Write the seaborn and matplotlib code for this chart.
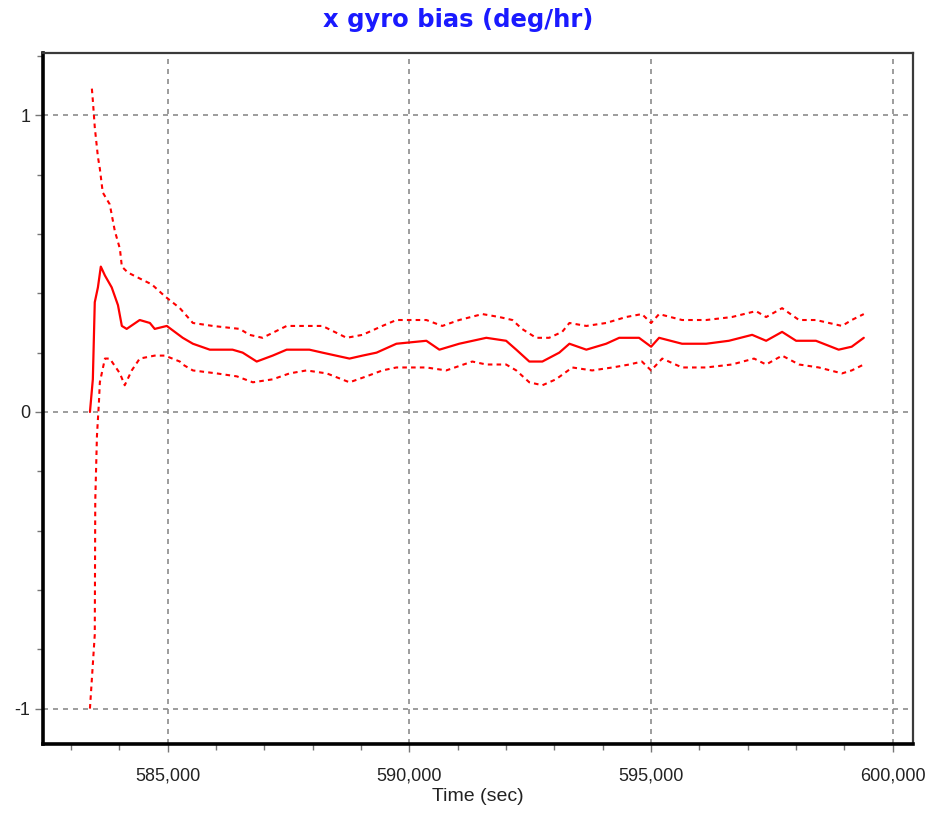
import matplotlib
matplotlib.use("Agg")
import matplotlib.pyplot as plt
from matplotlib.ticker import MultipleLocator
import seaborn as sns
import pandas as pd

# ---- data ----
mid_t = [583390, 583450, 583490, 583555, 583615, 583700, 583840, 583970, 584050, 584150,
         584420, 584630, 584730, 584980, 585310, 585520, 585870, 586340, 586550, 586840,
         587170, 587460, 587730, 587930, 588200, 588760, 589030, 589320, 589730, 590350,
         590620, 591030, 591590, 592000, 592210, 592480, 592750, 593100, 593310, 593660,
         594070, 594340, 594750, 595000, 595165, 595640, 596140, 596610, 597090, 597380,
         597710, 598000, 598410, 598880, 599150, 599400]
mid_v = [0.00, 0.11, 0.37, 0.42, 0.49, 0.46, 0.42, 0.36, 0.29, 0.28,
         0.31, 0.30, 0.28, 0.29, 0.25, 0.23, 0.21, 0.21, 0.20, 0.17,
         0.19, 0.21, 0.21, 0.21, 0.20, 0.18, 0.19, 0.20, 0.23, 0.24,
         0.21, 0.23, 0.25, 0.24, 0.21, 0.17, 0.17, 0.20, 0.23, 0.21,
         0.23, 0.25, 0.25, 0.22, 0.25, 0.23, 0.23, 0.24, 0.26, 0.24,
         0.27, 0.24, 0.24, 0.21, 0.22, 0.25]

up_t = [583430, 583450, 583490, 583555, 583595, 583655, 583800, 583905, 584010, 584050,
        584175, 584420, 584670, 584940, 585250, 585520, 585930, 586490, 586690, 586960,
        587460, 587790, 588200, 588700, 589030, 589440, 589730, 590350, 590680, 591030,
        591510, 591860, 592130, 592330, 592620, 592890, 593160, 593310, 593660, 594070,
        594480, 594810, 595000, 595165, 595640, 596140, 596670, 597170, 597380, 597710,
        598060, 598410, 598950, 599150, 599400]
up_v = [1.09, 1.05, 0.96, 0.86, 0.82, 0.74, 0.70, 0.61, 0.55, 0.49,
        0.47, 0.45, 0.43, 0.39, 0.35, 0.30, 0.29, 0.28, 0.26, 0.25,
        0.29, 0.29, 0.29, 0.25, 0.26, 0.29, 0.31, 0.31, 0.29, 0.31,
        0.33, 0.32, 0.31, 0.28, 0.25, 0.25, 0.27, 0.30, 0.29, 0.30,
        0.32, 0.33, 0.30, 0.33, 0.31, 0.31, 0.32, 0.34, 0.32, 0.35,
        0.31, 0.31, 0.29, 0.31, 0.33]

lo_t = [583390, 583490, 583500, 583535, 583575, 583595, 583700, 583800, 584010, 584110,
        584255, 584420, 584730, 584940, 585250, 585310, 585520, 586010, 586430, 586760,
        587170, 587520, 587870, 588290, 588760, 589110, 589440, 589730, 590350, 590760,
        591300, 591590, 592000, 592210, 592480, 592750, 593030, 593370, 593780, 594200,
        594550, 594810, 595000, 595230, 595640, 596140, 596670, 597130, 597380, 597710,
        598060, 598470, 598950, 599150, 599400]
lo_v = [-1.00, -0.75, -0.30, -0.08, 0.03, 0.10, 0.18, 0.18, 0.13, 0.09,
        0.14, 0.18, 0.19, 0.19, 0.17, 0.16, 0.14, 0.13, 0.12, 0.10,
        0.11, 0.13, 0.14, 0.13, 0.10, 0.12, 0.14, 0.15, 0.15, 0.14,
        0.17, 0.16, 0.16, 0.14, 0.10, 0.09, 0.11, 0.15, 0.14, 0.15,
        0.16, 0.17, 0.14, 0.18, 0.15, 0.15, 0.16, 0.18, 0.16, 0.19,
        0.16, 0.15, 0.13, 0.14, 0.16]

x_ticks = [585000, 590000, 595000, 600000]
x_tick_labels = ["585,000", "590,000", "595,000", "600,000"]
y_ticks = [-1, 0, 1]
y_tick_labels = ["-1", "0", "1"]

title = "x gyro bias (deg/hr)"
xlabel = "Time (sec)"

# ---- plot ----
sns.set_style("white")
plt.rcParams["font.family"] = ["Liberation Sans", "DejaVu Sans"]

fig = plt.figure(figsize=(9.36, 8.16), dpi=100)
ax = fig.add_axes([0.046, 0.088, 0.929, 0.847])

df_mid = pd.DataFrame({"t": mid_t, "v": mid_v})
df_up = pd.DataFrame({"t": up_t, "v": up_v})
df_lo = pd.DataFrame({"t": lo_t, "v": lo_v})

sns.lineplot(data=df_mid, x="t", y="v", ax=ax, color="#ff0000", lw=1.6,
             estimator=None, sort=False, zorder=3)
for d in (df_up, df_lo):
    sns.lineplot(data=d, x="t", y="v", ax=ax, color="#ff0000", lw=1.5,
                 estimator=None, sort=False, zorder=3, dashes=False,
                 linestyle=(0, (2.2, 2)))

ax.set_xlim(582420, 600410)
ax.set_ylim(-1.12, 1.21)

ax.set_xticks(x_ticks)
ax.set_xticklabels(x_tick_labels)
ax.xaxis.set_minor_locator(MultipleLocator(1000))
ax.set_yticks(y_ticks)
ax.set_yticklabels(y_tick_labels)
ax.yaxis.set_minor_locator(MultipleLocator(0.2))

ax.tick_params(axis="both", which="major", direction="out", length=6, width=1,
               color="#777777", labelsize=13, labelcolor="#222222", pad=3)
ax.tick_params(axis="both", which="minor", direction="out", length=4, width=1,
               color="#777777")
ax.tick_params(axis="x", which="major", pad=11)
ax.tick_params(left=True, bottom=True, which="both")

ax.grid(True, which="major", color="#8c8c8c", linestyle=(0, (3, 3)), lw=1.2, zorder=1)
ax.set_axisbelow(True)

for side in ("left", "bottom"):
    ax.spines[side].set_color("black")
    ax.spines[side].set_linewidth(2.6)
for side in ("top", "right"):
    ax.spines[side].set_color("#3a3a3a")
    ax.spines[side].set_linewidth(1.6)
    ax.spines[side].set_visible(True)

ax.set_xlabel(xlabel, fontsize=14, color="#222222", labelpad=2)
ax.set_ylabel("")
fig.text(0.489, 0.975, title, fontsize=17.5, fontweight="bold", color="#1a1aff",
         ha="center", va="center", family=["DejaVu Sans"])

fig.savefig("out.png", dpi=100)
